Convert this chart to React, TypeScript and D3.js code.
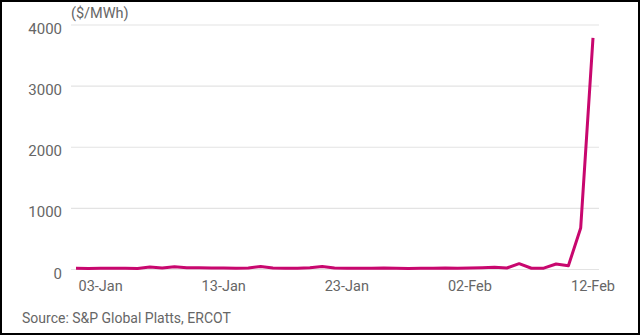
import React from "react";
import * as d3 from "d3";

const dates: string[] = [
  "2021-01-01","2021-01-02","2021-01-03","2021-01-04","2021-01-05","2021-01-06","2021-01-07","2021-01-08","2021-01-09","2021-01-10",
  "2021-01-11","2021-01-12","2021-01-13","2021-01-14","2021-01-15","2021-01-16","2021-01-17","2021-01-18","2021-01-19","2021-01-20",
  "2021-01-21","2021-01-22","2021-01-23","2021-01-24","2021-01-25","2021-01-26","2021-01-27","2021-01-28","2021-01-29","2021-01-30",
  "2021-01-31","2021-02-01","2021-02-02","2021-02-03","2021-02-04","2021-02-05","2021-02-06","2021-02-07","2021-02-08","2021-02-09",
  "2021-02-10","2021-02-11","2021-02-12",
];
const prices: number[] = [
  20, 18, 20, 22, 20, 18, 40, 25, 45, 30,
  28, 25, 24, 22, 25, 50, 25, 20, 22, 30,
  50, 25, 22, 20, 22, 25, 20, 18, 20, 22,
  25, 22, 25, 28, 35, 25, 95, 20, 22, 90,
  60, 680, 3790,
];
const yTicks: number[] = [0, 1000, 2000, 3000, 4000];
const xTickDates: string[] = ["2021-01-03", "2021-01-13", "2021-01-23", "2021-02-02", "2021-02-12"];
const unitLabel = "($/MWh)";
const sourceText = "Source: S&P Global Platts, ERCOT";

export default function App() {
  const W = 640, H = 335;
  const parse = d3.utcParse("%Y-%m-%d");
  const fmt = d3.utcFormat("%d-%b");
  const data = dates.map((d, i) => ({ date: parse(d) as Date, v: prices[i] }));
  const x = d3.scaleUtc()
    .domain([parse(dates[0]) as Date, parse(dates[dates.length - 1]) as Date])
    .range([76, 593]);
  const y = d3.scaleLinear().domain([0, 4000]).range([269.5, 25]);
  const line = d3.line<{ date: Date; v: number }>()
    .x(d => x(d.date))
    .y(d => y(d.v))
    .curve(d3.curveLinear);
  const font = "Roboto, 'Open Sans', sans-serif";
  const gray = "#666";
  return (
    <svg width={W} height={H} style={{ position: "fixed", left: 0, top: 0 }} fontFamily={font}>
      <rect x={0} y={0} width={W} height={H} fill="#fff" />
      <rect x={1} y={1} width={W - 2} height={H - 2} fill="none" stroke="#000" strokeWidth={2} />
      {yTicks.map(t => (
        <g key={t}>
          <line x1={71} x2={599} y1={y(t)} y2={y(t)} stroke="#e3e3e3" strokeWidth={1.2} />
          <text x={62} y={y(t) + 9} textAnchor="end" fontSize={15} fill={gray}>{t}</text>
        </g>
      ))}
      <text x={71} y={18} fontSize={14.5} fill={gray}>{unitLabel}</text>
      {xTickDates.map(d => {
        const dt = parse(d) as Date;
        return (
          <text key={d} x={x(dt)} y={291} textAnchor="middle" fontSize={14.5} fill={gray}>{fmt(dt)}</text>
        );
      })}
      <path d={line(data) || ""} fill="none" stroke="#c8076e" strokeWidth={3} strokeLinejoin="round" />
      <text x={22} y={323} fontSize={14} fill={gray}>{sourceText}</text>
    </svg>
  );
}
